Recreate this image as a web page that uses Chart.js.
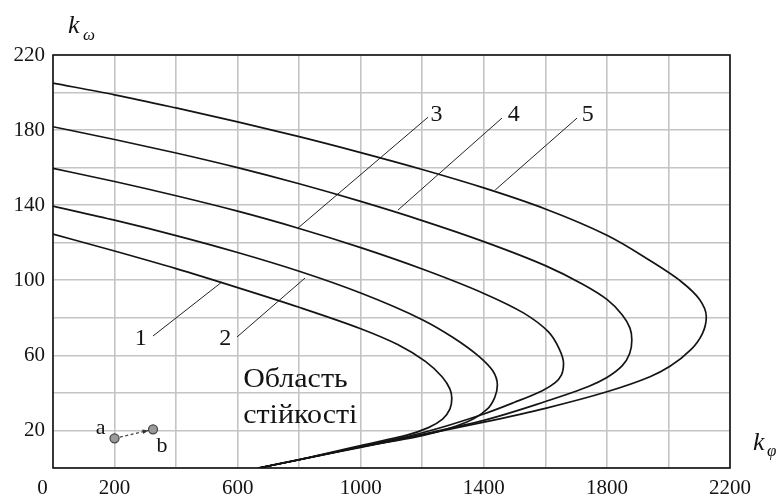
<!DOCTYPE html>
<html>
<head>
<meta charset="utf-8">
<script src="https://cdn.jsdelivr.net/npm/chart.js@4.4.0/dist/chart.umd.min.js"></script>
<style>
  html, body { margin: 0; padding: 0; background: #fff; }
  #wrap { width: 779px; height: 500px; }
</style>
</head>
<body>
<div id="wrap"><canvas id="c" width="779" height="500"></canvas></div>
<script>
// Stability-region boundaries in the (k_phi, k_omega) plane, curves 1..5
const xTickLabels = [0, 200, 600, 1000, 1400, 1800, 2200];
const yTickLabels = [20, 60, 100, 140, 180, 220];

// each curve: upper branch from k_phi = 0 to the turning point, then the lower branch back to the axis
// (k_omega decreases along every list, so the curves are interpolated along the k_omega axis)
const curve1 = [[0,124.6],[200,115.6],[400,106.2],[600,96.1],[800,85.6],[1000,74.2],[1120,65.8],[1210,56.8],[1265,48.5],[1290,42.0],[1296,37.1],[1290,31.5],[1266,26.0],[1220,21.5],[1150,17.5],[1000,12.0],[800,4.5],[668,0]];
const curve2 = [[0,139.5],[200,132.0],[400,123.8],[600,114.8],[800,104.8],[1000,93.2],[1200,79.0],[1300,69.5],[1385,59.3],[1430,51.5],[1444,44.2],[1436,37.8],[1410,31.2],[1345,24.5],[1200,17.2],[1000,11.3],[800,4.4],[668,0]];
const curve3 = [[0,159.6],[200,152.6],[400,145.0],[600,136.8],[800,127.6],[1000,117.4],[1200,106.0],[1400,93.0],[1530,82.5],[1610,72.5],[1645,63.5],[1659,55.8],[1652,49.5],[1632,45.5],[1590,41.2],[1500,35.0],[1400,28.8],[1200,18.8],[1000,11.4],[800,4.4],[668,0]];
const curve4 = [[0,181.8],[200,175.0],[400,167.8],[600,160.0],[800,151.4],[1000,142.0],[1200,131.8],[1400,120.6],[1600,107.8],[1720,98.0],[1800,89.8],[1850,81.5],[1875,74.5],[1881,68.2],[1874,61.0],[1850,54.5],[1800,48.2],[1740,43.4],[1600,35.4],[1400,25.4],[1200,18.0],[1000,11.2],[800,4.4],[668,0]];
const curve5 = [[0,205.0],[200,198.8],[400,191.8],[600,184.4],[800,176.5],[1000,168.0],[1200,159.0],[1400,149.2],[1600,138.0],[1800,124.0],[1940,110.5],[2040,99.5],[2100,90.0],[2123,80.6],[2110,71.5],[2072,62.9],[2005,54.2],[1940,48.6],[1800,40.6],[1600,31.8],[1400,24.4],[1200,17.6],[1000,11.0],[800,4.4],[668,0]];

const curveNames = ['1', '2', '3', '4', '5'];
const curveNameAt = [[285,69],[560,69],[1246,188],[1497,188],[1738,188]];
const leaderFrom = [[325,70.3],[598,69.8],[796,127.8],[1121,137.4],[1437,148.1]];
const leaderTo = [[549,99.1],[819,101.2],[1219,186.9],[1459,186.4],[1703,186.4]];

const pointA = [200, 15.8];
const pointB = [325, 20.6];
const regionText = ['Область', 'стійкості'];
const regionTextAt = [[618, 43.2], [618, 24.0]];

const SERIF = '"Liberation Serif", "Times New Roman", serif';
const INK = '#141414';

const toXY = arr => arr.map(p => ({ x: p[0], y: p[1] }));

const datasets = [];
[curve1, curve2, curve3, curve4, curve5].forEach((c, i) => {
  datasets.push({
    label: 'curve ' + curveNames[i],
    data: toXY(c),
    borderColor: INK,
    borderWidth: 1.7,
    pointRadius: 0,
    cubicInterpolationMode: 'monotone',
    fill: false
  });
});
leaderFrom.forEach((f, i) => {
  datasets.push({
    label: 'leader ' + curveNames[i],
    data: toXY([f, leaderTo[i]]),
    borderColor: '#222',
    borderWidth: 1,
    pointRadius: 0,
    tension: 0
  });
});
datasets.push({
  label: 'a-b',
  data: toXY([pointA, pointB]),
  borderColor: '#444',
  borderWidth: 1.2,
  borderDash: [3, 2.5],
  pointRadius: 4.5,
  pointBackgroundColor: '#9a9a9a',
  pointBorderColor: '#4a4a4a',
  pointBorderWidth: 1.3,
  tension: 0
});

const decor = {
  id: 'decor',
  afterDatasetsDraw(chart) {
    const { ctx, chartArea: a, scales: { x, y } } = chart;
    ctx.save();
    // frame
    ctx.strokeStyle = '#111';
    ctx.lineWidth = 1.6;
    ctx.strokeRect(a.left, a.top, a.right - a.left, a.bottom - a.top);

    // arrow head at b
    const ax = x.getPixelForValue(pointA[0]), ay = y.getPixelForValue(pointA[1]);
    const bx = x.getPixelForValue(pointB[0]), by = y.getPixelForValue(pointB[1]);
    const ang = Math.atan2(by - ay, bx - ax);
    const tx = bx - 5 * Math.cos(ang), ty = by - 5 * Math.sin(ang);
    ctx.fillStyle = '#333';
    ctx.beginPath();
    ctx.moveTo(tx, ty);
    ctx.lineTo(tx - 6 * Math.cos(ang - 0.4), ty - 6 * Math.sin(ang - 0.4));
    ctx.lineTo(tx - 6 * Math.cos(ang + 0.4), ty - 6 * Math.sin(ang + 0.4));
    ctx.closePath();
    ctx.fill();

    ctx.fillStyle = INK;
    // point names
    ctx.font = '22px ' + SERIF;
    ctx.textAlign = 'center';
    ctx.textBaseline = 'middle';
    ctx.fillText('a', ax - 14, ay - 10);
    ctx.fillText('b', bx + 9, by + 17);

    // curve numbers
    ctx.font = '24px ' + SERIF;
    curveNames.forEach((n, i) => {
      ctx.fillText(n, x.getPixelForValue(curveNameAt[i][0]), y.getPixelForValue(curveNameAt[i][1]));
    });

    // region caption
    ctx.font = '27px ' + SERIF;
    ctx.textAlign = 'left';
    ctx.textBaseline = 'alphabetic';
    regionText.forEach((t, i) => {
      const px = x.getPixelForValue(regionTextAt[i][0]);
      const py = y.getPixelForValue(regionTextAt[i][1]);
      ctx.save();
      ctx.translate(px, py);
      ctx.scale(1.11, 1);
      ctx.fillText(t, 0, 0);
      ctx.restore();
    });

    // axis titles
    ctx.font = 'italic 26px ' + SERIF;
    ctx.fillText('k', a.left + 15, 33);
    ctx.font = 'italic 17px ' + SERIF;
    ctx.fillText('ω', a.left + 30, 40);
    ctx.font = 'italic 26px ' + SERIF;
    ctx.fillText('k', a.right + 23, 450);
    ctx.font = 'italic 17px ' + SERIF;
    ctx.fillText('φ', a.right + 37, 456);
    ctx.restore();
  }
};

new Chart(document.getElementById('c'), {
  type: 'line',
  data: { datasets },
  options: {
    indexAxis: 'y',
    responsive: false,
    devicePixelRatio: 1,
    animation: false,
    layout: { padding: { top: 55, right: 49, left: 0, bottom: 0 } },
    plugins: { legend: { display: false }, tooltip: { enabled: false } },
    scales: {
      x: {
        type: 'linear',
        position: 'bottom',
        min: 0, max: 2200,
        afterFit: s => { s.height = 32; },
        grid: { color: '#c4c4c4', lineWidth: 1.6, drawTicks: false },
        border: { display: false },
        ticks: {
          stepSize: 200,
          autoSkip: false,
          maxRotation: 0,
          padding: 8,
          color: INK,
          font: { family: SERIF, size: 21 },
          callback: v => xTickLabels.includes(v) ? (v === 0 ? '0\u2003' : String(v)) : ''
        }
      },
      y: {
        type: 'linear',
        position: 'left',
        min: 0, max: 220,
        afterFit: s => { s.width = 53; },
        grid: { color: '#c4c4c4', lineWidth: 1.6, drawTicks: false },
        border: { display: false },
        ticks: {
          stepSize: 20,
          autoSkip: false,
          padding: 8,
          color: INK,
          font: { family: SERIF, size: 21 },
          callback: v => yTickLabels.includes(v) ? String(v) : ''
        }
      }
    }
  },
  plugins: [decor]
});
</script>
</body>
</html>
